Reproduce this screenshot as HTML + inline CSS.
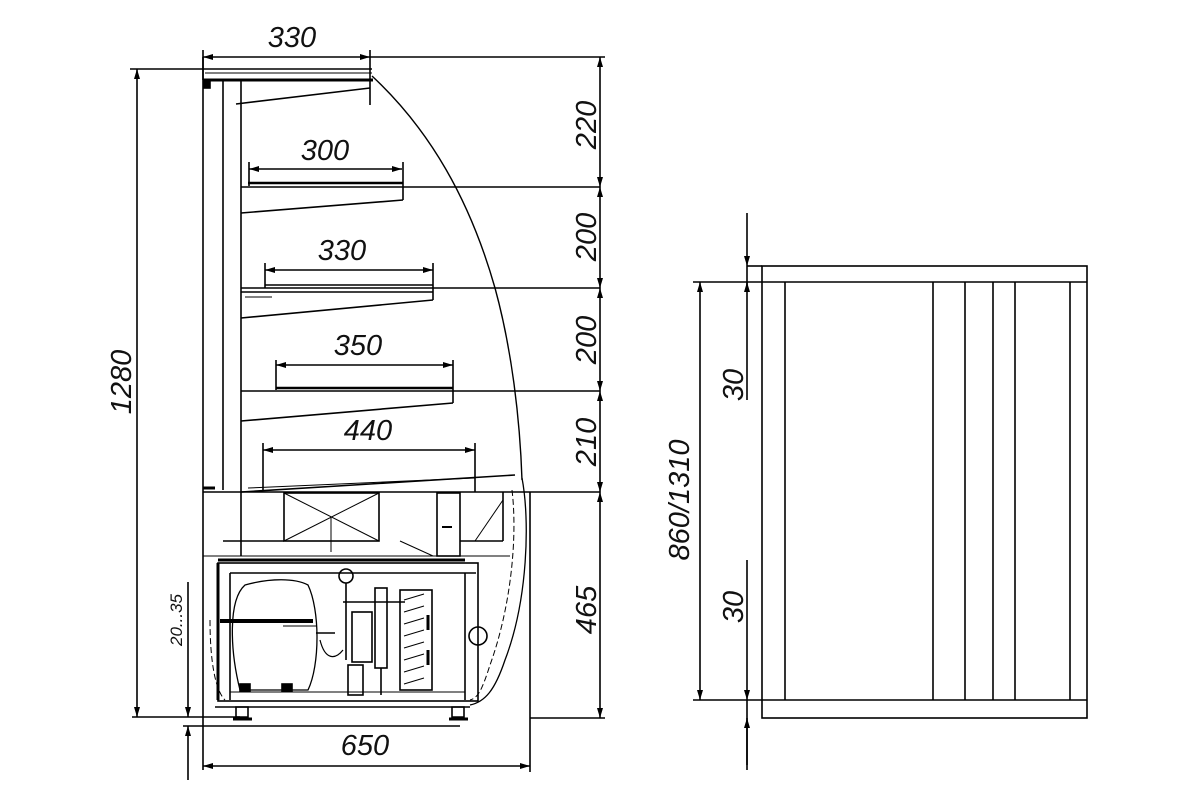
<!DOCTYPE html>
<html><head><meta charset="utf-8"><style>
html,body{margin:0;padding:0;background:#fff;}
svg{display:block;}
text{font-family:"Liberation Sans Narrow","Liberation Sans",sans-serif;font-style:italic;fill:#111;}
</style></head><body>
<svg width="1200" height="800" viewBox="0 0 1200 800" xmlns="http://www.w3.org/2000/svg">
<defs>
<marker id="a" viewBox="0 0 10 6" refX="10" refY="3" markerWidth="10" markerHeight="6" orient="auto-start-reverse" markerUnits="userSpaceOnUse"><path d="M0,0 L10,3 L0,6 Z" fill="#000"/></marker>
</defs>
<g stroke="#000" fill="none" stroke-width="1.6">
<line x1="203" y1="50" x2="203" y2="80"/>
<line x1="370" y1="50" x2="370" y2="105"/>
<line x1="203" y1="57" x2="370" y2="57" marker-start="url(#a)" marker-end="url(#a)"/>
<line x1="370" y1="57" x2="605" y2="57"/>
<line x1="130" y1="69" x2="372" y2="69"/>
<line x1="205" y1="73" x2="372" y2="73" stroke-width="1"/>
<line x1="203" y1="80" x2="373" y2="80" stroke-width="3"/>
<line x1="203" y1="57" x2="203" y2="770"/>
<line x1="223" y1="80" x2="223" y2="490"/>
<line x1="241" y1="80" x2="241" y2="556"/>
<rect x="204" y="80" width="6" height="8" fill="#000"/>
<line x1="236" y1="104" x2="370" y2="88"/>
<path d="M372,76 C430,130 470,200 495,288 C512,350 520,420 522,480" stroke-width="1.4"/>
<line x1="241" y1="187" x2="600" y2="187"/>
<line x1="248" y1="183" x2="403" y2="183" stroke-width="2.5"/>
<line x1="249" y1="162" x2="249" y2="186"/>
<line x1="403" y1="162" x2="403" y2="200"/>
<line x1="249" y1="169" x2="402" y2="169" marker-start="url(#a)" marker-end="url(#a)"/>
<line x1="241" y1="213" x2="403" y2="200"/>
<line x1="241" y1="288" x2="600" y2="288"/>
<line x1="265" y1="285" x2="433" y2="285"/>
<line x1="241" y1="292" x2="433" y2="292"/>
<line x1="265" y1="263" x2="265" y2="288"/>
<line x1="433" y1="263" x2="433" y2="300"/>
<line x1="265" y1="270" x2="433" y2="270" marker-start="url(#a)" marker-end="url(#a)"/>
<line x1="245" y1="297" x2="272" y2="297" stroke-width="1"/>
<line x1="241" y1="318" x2="433" y2="300"/>
<line x1="241" y1="391" x2="600" y2="391"/>
<line x1="276" y1="388" x2="453" y2="388" stroke-width="2.5"/>
<line x1="276" y1="360" x2="276" y2="390"/>
<line x1="453" y1="360" x2="453" y2="403"/>
<line x1="276" y1="365" x2="453" y2="365" marker-start="url(#a)" marker-end="url(#a)"/>
<line x1="241" y1="421" x2="453" y2="403"/>
<line x1="263" y1="443" x2="263" y2="490"/>
<line x1="475" y1="443" x2="475" y2="492"/>
<line x1="263" y1="450" x2="475" y2="450" marker-start="url(#a)" marker-end="url(#a)"/>
<line x1="241" y1="492" x2="515" y2="475"/>
<line x1="248" y1="488" x2="475" y2="478" stroke-width="1"/>
<line x1="203" y1="492" x2="600" y2="492"/>
<line x1="203" y1="488" x2="215" y2="488" stroke-width="3"/>
<rect x="284" y="493" width="95" height="48"/>
<line x1="284" y1="493" x2="379" y2="541" stroke-width="1"/>
<line x1="379" y1="493" x2="284" y2="541" stroke-width="1"/>
<line x1="331" y1="517" x2="331" y2="552" stroke-width="1"/>
<rect x="437" y="493" width="23" height="63"/>
<line x1="442" y1="527" x2="452" y2="527" stroke-width="2"/>
<line x1="460" y1="541" x2="503" y2="541"/>
<line x1="223" y1="541" x2="284" y2="541"/>
<line x1="503" y1="492" x2="503" y2="541"/>
<line x1="503" y1="500" x2="475" y2="541" stroke-width="1"/>
<line x1="400" y1="541" x2="433" y2="556" stroke-width="1"/>
<line x1="218" y1="560" x2="465" y2="560" stroke-width="3"/>
<line x1="203" y1="556" x2="510" y2="556" stroke-width="1"/>
<rect x="218" y="563" width="260" height="138"/>
<line x1="230" y1="573" x2="476" y2="573"/>
<line x1="230" y1="573" x2="230" y2="700"/>
<line x1="465" y1="573" x2="465" y2="700"/>
<line x1="218" y1="563" x2="218" y2="700" stroke-width="3"/>
<line x1="215" y1="707" x2="470" y2="707"/>
<path d="M236,707 h12 v10 h-12 z M452,707 h12 v10 h-12 z"/>
<line x1="233" y1="719" x2="252" y2="719" stroke-width="3"/>
<line x1="449" y1="719" x2="468" y2="719" stroke-width="3"/>
<path d="M240,690 C230,650 228,600 245,585 C270,578 295,578 308,585 C320,610 320,665 308,690 Z" stroke-width="1.3"/>
<line x1="220" y1="621" x2="313" y2="621" stroke-width="4"/>
<line x1="283" y1="626" x2="316" y2="626" stroke-width="1"/>
<line x1="316" y1="633" x2="335" y2="633"/>
<path d="M320,640 C325,660 335,660 343,650" stroke-width="1.2"/>
<circle cx="346" cy="576" r="7"/>
<line x1="346" y1="583" x2="346" y2="660"/>
<line x1="343" y1="602" x2="405" y2="602"/>
<rect x="352" y="612" width="20" height="50"/>
<rect x="348" y="665" width="15" height="30"/>
<rect x="375" y="588" width="12" height="80"/>
<line x1="381" y1="668" x2="381" y2="695"/>
<rect x="400" y="590" width="32" height="100"/>
<path d="M404,600 l20,-6 M404,612 l20,-6 M404,624 l20,-6 M404,636 l20,-6 M404,648 l20,-6 M404,660 l20,-6 M404,672 l20,-6 M404,684 l20,-6" stroke-width="1"/>
<line x1="428" y1="615" x2="428" y2="630" stroke-width="3"/>
<line x1="428" y1="650" x2="428" y2="665" stroke-width="3"/>
<line x1="230" y1="692" x2="465" y2="692" stroke-width="1"/>
<rect x="240" y="684" width="10" height="7" fill="#000"/>
<rect x="282" y="684" width="10" height="7" fill="#000"/>
<circle cx="478" cy="636" r="9"/>
<path d="M522,478 C530,520 528,600 505,660 C495,690 485,702 470,705" stroke-width="1.3"/>
<path d="M512,490 C518,540 510,610 490,665 C482,690 478,698 470,700" stroke-width="1" stroke-dasharray="6,3"/>
<path d="M210,620 C210,660 215,690 225,700" stroke-width="1" stroke-dasharray="6,3"/>
<line x1="530" y1="492" x2="530" y2="772"/>
<line x1="203" y1="766" x2="530" y2="766" marker-start="url(#a)" marker-end="url(#a)"/>
<line x1="132" y1="717" x2="240" y2="717"/>
<line x1="183" y1="726" x2="460" y2="726"/>
<line x1="137" y1="69" x2="137" y2="717" marker-start="url(#a)" marker-end="url(#a)"/>
<line x1="188" y1="582" x2="188" y2="717" marker-end="url(#a)"/>
<line x1="188" y1="780" x2="188" y2="726" marker-end="url(#a)"/>
<line x1="600" y1="57" x2="600" y2="187" marker-start="url(#a)" marker-end="url(#a)"/>
<line x1="600" y1="187" x2="600" y2="288" marker-start="url(#a)" marker-end="url(#a)"/>
<line x1="600" y1="288" x2="600" y2="391" marker-start="url(#a)" marker-end="url(#a)"/>
<line x1="600" y1="391" x2="600" y2="492" marker-start="url(#a)" marker-end="url(#a)"/>
<line x1="600" y1="492" x2="600" y2="718" marker-start="url(#a)" marker-end="url(#a)"/>
<line x1="530" y1="718" x2="605" y2="718"/>
<!-- right view -->
<rect x="762" y="266" width="325" height="452"/>
<line x1="693" y1="282" x2="1087" y2="282"/>
<line x1="693" y1="700" x2="1087" y2="700"/>
<line x1="785" y1="282" x2="785" y2="700"/>
<line x1="933" y1="282" x2="933" y2="700"/>
<line x1="965" y1="282" x2="965" y2="700"/>
<line x1="993" y1="282" x2="993" y2="700"/>
<line x1="1015" y1="282" x2="1015" y2="700"/>
<line x1="1070" y1="282" x2="1070" y2="700"/>
<line x1="700" y1="282" x2="700" y2="700" marker-start="url(#a)" marker-end="url(#a)"/>
<line x1="747" y1="213" x2="747" y2="266" marker-end="url(#a)"/>
<line x1="747" y1="266" x2="747" y2="400"/>
<line x1="747" y1="282" x2="747" y2="292" marker-start="url(#a)"/>
<line x1="747" y1="560" x2="747" y2="700" marker-end="url(#a)"/>
<line x1="747" y1="700" x2="747" y2="770"/>
<line x1="747" y1="765" x2="747" y2="718" marker-end="url(#a)"/>
<line x1="747" y1="266" x2="762" y2="266"/>
</g>
<g font-size="29">
<text x="292" y="47" text-anchor="middle">330</text>
<text x="325" y="160" text-anchor="middle">300</text>
<text x="342" y="260" text-anchor="middle">330</text>
<text x="358" y="355" text-anchor="middle">350</text>
<text x="368" y="440" text-anchor="middle">440</text>
<text x="365" y="755" text-anchor="middle">650</text>
<text transform="translate(596,125) rotate(-90)" text-anchor="middle">220</text>
<text transform="translate(596,237) rotate(-90)" text-anchor="middle">200</text>
<text transform="translate(596,340) rotate(-90)" text-anchor="middle">200</text>
<text transform="translate(596,442) rotate(-90)" text-anchor="middle">210</text>
<text transform="translate(596,610) rotate(-90)" text-anchor="middle">465</text>
<text transform="translate(131,382) rotate(-90)" text-anchor="middle">1280</text>
<text transform="translate(689,500) rotate(-90)" text-anchor="middle">860/1310</text>
<text transform="translate(743,385) rotate(-90)" text-anchor="middle">30</text>
<text transform="translate(743,607) rotate(-90)" text-anchor="middle">30</text>
<text transform="translate(182,620) rotate(-90)" text-anchor="middle" font-size="17">20...35</text>
</g>
</svg>
</body></html>
